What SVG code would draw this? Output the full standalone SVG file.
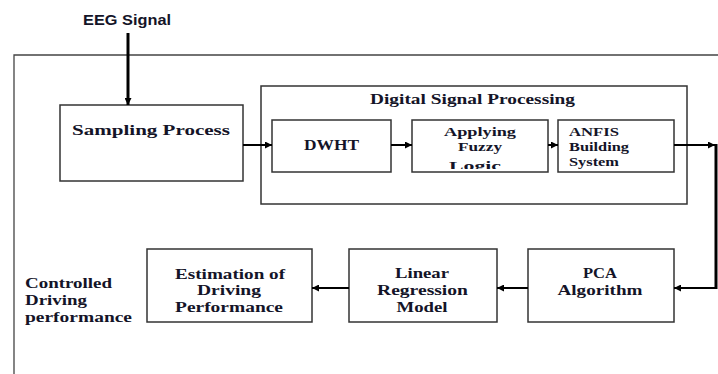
<svg xmlns="http://www.w3.org/2000/svg" width="718" height="374" viewBox="0 0 718 374">
<style>
.box{fill:#fff;stroke:#333;stroke-width:1.5}
.frame{fill:none;stroke:#444;stroke-width:1.3}
.t{font-family:"Liberation Serif","Times New Roman",serif;font-weight:bold;font-size:15px;fill:#141428}
.sm{font-size:13.5px}
.s{font-family:"Liberation Sans",Arial,sans-serif;font-weight:bold;font-size:15px;fill:#141428}
.c{text-anchor:middle}
.ln{fill:none;stroke:#000;stroke-width:2}
.thick{fill:none;stroke:#000;stroke-width:3}
</style>
<defs>
<marker id="ah" viewBox="0 0 10 10" refX="10" refY="5" markerWidth="8" markerHeight="7" markerUnits="userSpaceOnUse" orient="auto">
<path d="M0,0 L10,5 L0,10 z" fill="#000"/>
</marker>
<clipPath id="fz"><rect x="412" y="120" width="136" height="49"/></clipPath>
</defs>
<path class="frame" d="M14,374 V55 H718"/>
<text class="s" x="83" y="25" textLength="88" lengthAdjust="spacingAndGlyphs">EEG Signal</text>
<g id="sampling">
<rect class="box" x="60" y="105" width="183" height="76"/>
<text class="t" x="72" y="135" textLength="158" lengthAdjust="spacingAndGlyphs">Sampling Process</text>
</g>
<g id="dsp">
<rect class="box" x="261" y="86" width="426" height="118"/>
<text class="t" x="370" y="104" textLength="205" lengthAdjust="spacingAndGlyphs">Digital Signal Processing</text>
</g>
<g id="dwht">
<rect class="box" x="272" y="120" width="119" height="52"/>
<text class="t" x="304" y="150" textLength="55" lengthAdjust="spacingAndGlyphs">DWHT</text>
</g>
<g id="fuzzy">
<rect class="box" x="412" y="120" width="136" height="52"/>
<text class="t sm" x="444" y="136" textLength="72" lengthAdjust="spacingAndGlyphs">Applying</text>
<text class="t sm" x="458" y="151" textLength="44" lengthAdjust="spacingAndGlyphs">Fuzzy</text>
<text class="t sm" x="449" y="170" textLength="52" lengthAdjust="spacingAndGlyphs" clip-path="url(#fz)">Logic</text>
</g>
<g id="anfis">
<rect class="box" x="558" y="120" width="116" height="52"/>
<text class="t sm" x="569" y="136" textLength="50" lengthAdjust="spacingAndGlyphs">ANFIS</text>
<text class="t sm" x="569" y="151" textLength="60" lengthAdjust="spacingAndGlyphs">Building</text>
<text class="t sm" x="569" y="166" textLength="50" lengthAdjust="spacingAndGlyphs">System</text>
</g>
<g id="pca">
<rect class="box" x="528" y="249" width="146" height="73"/>
<text class="t c" x="600" y="278" textLength="34" lengthAdjust="spacingAndGlyphs">PCA</text>
<text class="t c" x="600" y="295" textLength="85" lengthAdjust="spacingAndGlyphs">Algorithm</text>
</g>
<g id="regression">
<rect class="box" x="349" y="249" width="148" height="73"/>
<text class="t c" x="422" y="278" textLength="54" lengthAdjust="spacingAndGlyphs">Linear</text>
<text class="t c" x="422.5" y="295" textLength="91" lengthAdjust="spacingAndGlyphs">Regression</text>
<text class="t c" x="422" y="312" textLength="51" lengthAdjust="spacingAndGlyphs">Model</text>
</g>
<g id="estimation">
<rect class="box" x="147" y="249" width="165" height="73"/>
<text class="t c" x="230" y="279" textLength="110" lengthAdjust="spacingAndGlyphs">Estimation of</text>
<text class="t c" x="229" y="295" textLength="64" lengthAdjust="spacingAndGlyphs">Driving</text>
<text class="t c" x="229" y="312" textLength="108" lengthAdjust="spacingAndGlyphs">Performance</text>
</g>
<g id="output">
<text class="t" x="25" y="288" textLength="87" lengthAdjust="spacingAndGlyphs">Controlled</text>
<text class="t" x="25" y="305" textLength="62" lengthAdjust="spacingAndGlyphs">Driving</text>
<text class="t" x="25" y="322" textLength="107" lengthAdjust="spacingAndGlyphs">performance</text>
</g>
<g id="connectors">
<line class="thick" x1="128" y1="33" x2="128" y2="105" marker-end="url(#ah)"/>
<line class="ln" x1="243" y1="145" x2="272" y2="145" marker-end="url(#ah)"/>
<line class="ln" x1="391" y1="145" x2="412" y2="145" marker-end="url(#ah)"/>
<line class="ln" x1="548" y1="145" x2="558" y2="145" marker-end="url(#ah)"/>
<line class="ln" x1="674" y1="145" x2="715" y2="145" marker-end="url(#ah)"/>
<line class="thick" x1="716" y1="144" x2="716" y2="289"/>
<line class="ln" x1="716" y1="288" x2="674" y2="288" marker-end="url(#ah)"/>
<line class="ln" x1="528" y1="288" x2="497" y2="288" marker-end="url(#ah)"/>
<line class="ln" x1="349" y1="288" x2="312" y2="288" marker-end="url(#ah)"/>
</g>
</svg>
